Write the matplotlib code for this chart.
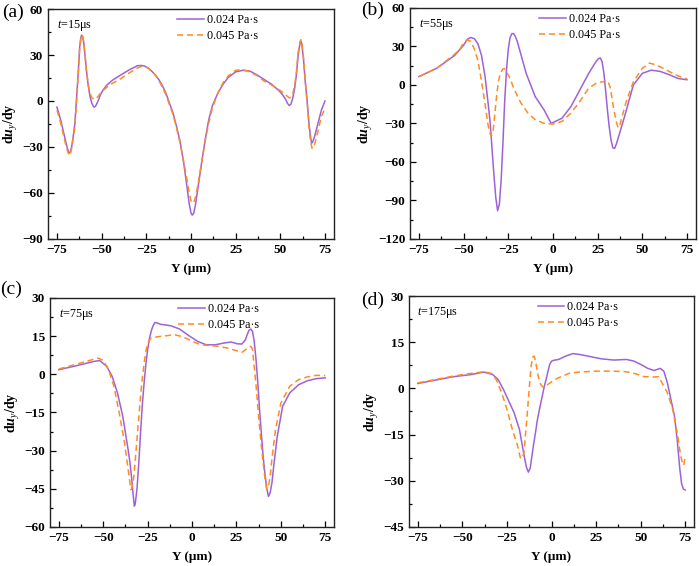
import numpy as np
import matplotlib
matplotlib.use("Agg")
import matplotlib.pyplot as plt
from matplotlib.ticker import MultipleLocator

plt.rcParams["font.family"] = ["Liberation Serif", "DejaVu Serif"]
plt.rcParams["mathtext.fontset"] = "custom"
plt.rcParams["mathtext.rm"] = "Liberation Serif"
plt.rcParams["mathtext.it"] = "Liberation Serif:italic"
plt.rcParams["mathtext.bf"] = "Liberation Serif:bold"
try:
    plt.rcParams["mathtext.bfit"] = "Liberation Serif:bold:italic"
except KeyError:
    pass

# ---- data ----
# (a) t = 15 us
a_x1 = [-75, -74, -73, -72, -71, -70, -69, -68.2, -67.5, -66.8, -66, -65, -64, -63, -62.3, -61.6, -61.2, -60.6, -60, -59.3,
        -58.5, -57.5, -56.5, -55.5, -54.5, -54, -53.2, -52, -50.5, -49, -47, -44, -40, -35, -30, -28, -26, -24, -22, -20,
        -18, -16, -14, -12, -10, -8, -6, -4, -2, -1, 0, 0.7, 1.5, 2.5, 4, 6, 8, 10, 12, 15,
        18, 21, 25, 29, 33, 37, 41, 45, 49, 51, 53, 54, 55, 56, 57, 58, 59, 60, 61, 61.5,
        62, 63, 64, 65, 66, 67, 67.5, 68, 69, 71, 73, 75]
a_y1 = [-4, -8, -12, -17, -22, -27, -31.5, -34, -33.5, -30, -24, -15, 2, 20, 35, 41.5, 43, 42, 38, 30,
        20, 10, 3, -1.5, -3.8, -4, -3, 0, 4.5, 7.5, 10.5, 13.5, 16.5, 20, 23, 23.2, 22.8, 21.5, 19.5, 17,
        14, 10, 5, -1.5, -8, -17, -27, -41, -58, -67, -73, -74.5, -73.5, -68, -56, -40, -25, -12, -3, 5,
        11, 15.5, 19, 20, 19.5, 17, 14, 11, 7, 4.5, 1, -1.5, -3, -2, 2, 8, 17, 30, 37.5, 39,
        37.5, 27, 12, 0, -14, -24, -27.5, -27, -24, -15, -6, 0]
a_x2 = [-75, -74, -73, -72, -71, -70, -69, -68.2, -67.5, -66.8, -66, -65, -64, -63, -62.3, -61.6, -61.2, -60.6, -60, -59.3,
        -58.5, -57.5, -56.5, -55.5, -54.5, -54, -53, -52, -50, -47, -44, -40, -35, -30, -28, -26, -24, -22, -20,
        -18, -16, -14, -12, -10, -8, -6, -4, -2, -1, 0, 0.7, 1.5, 2.5, 4, 6, 8, 10, 12, 15,
        18, 21, 25, 29, 33, 37, 41, 45, 49, 51, 53, 54, 55, 56, 57, 58, 59, 60, 61, 61.5,
        62, 63, 64, 65, 66, 67, 67.8, 68.5, 69.5, 71, 73, 75]
a_y2 = [-6, -10, -14, -19, -24, -29, -33, -35.5, -35, -31, -25, -17, 1, 19, 34, 41.5, 43, 42, 38, 30,
        20, 11, 5, 2.2, 1.2, 1, 1.8, 3, 6, 9, 11.5, 14, 18, 21.5, 22.5, 22.5, 21.5, 19.5, 17,
        13.5, 9, 4, -2.5, -9, -18, -28, -40, -53, -60, -65, -66.5, -66.5, -63, -54, -40, -26, -14, -4.5, 5,
        12, 16.5, 20, 20.5, 19, 16.5, 13, 10.5, 7.5, 6, 4, 3, 2, 2.5, 5, 10, 19, 32, 38.5, 40,
        38.5, 28, 13, 0, -16, -27, -31, -30.5, -27, -20, -10, -5]

# (b) t = 55 us
b_x1 = [-75, -65, -55, -50, -48, -46, -44, -42, -40, -38, -36, -35, -34, -33, -32, -31, -30, -29, -28, -27,
        -26, -25, -24, -23, -22, -21, -20, -15, -10, -5, -1, 5, 10, 15, 20, 24, 25.5, 26.5, 27.5, 28.5,
        29.5, 30.5, 31.5, 32.5, 33.5, 34.5, 35.5, 37, 40, 45, 50, 55, 60, 65, 70, 75]
b_y1 = [6.5, 13, 23, 31, 35.5, 37, 36, 32, 23, 6.5, -18, -32, -52, -71, -88, -98, -93, -74, -45, -12,
        12, 28, 37, 40, 40, 37.5, 34, 9, -9, -19.5, -30, -26, -17, -4, 9, 18, 20.5, 21, 18, 9,
        -5, -20, -33, -43, -49, -49.5, -46, -39, -25, 0, 9, 11.5, 10.5, 8, 5, 4]
b_x2 = [-75, -65, -55, -52, -50, -48, -46, -44, -42, -40, -38, -36.5, -35.5, -34.5, -33.5, -32.5, -31.5, -30.5, -29.5, -28,
        -27, -25.5, -24, -22, -18, -14, -10, -5, 0, 5, 10, 15, 20, 25, 27, 28.5, 30, 31, 32, 33,
        34, 35.5, 36.5, 37.5, 39, 41, 45, 50, 54, 58, 65, 70, 75]
b_y2 = [6.5, 13, 24, 28, 33, 35, 34, 28, 19, 3, -15, -30, -37, -40, -36, -22, -8, 3, 9, 12.5,
        12.5, 9, 5, -2.5, -14, -22, -27, -30, -30.5, -28.5, -22, -13, -2.5, 2, 2.3, 2.5, 3.5, 2, -2, -10,
        -19, -29, -33.5, -31, -23, -13, 2.5, 13, 17, 15.5, 10.5, 7, 4.7]

# (c) t = 75 us
c_x1 = [-75, -65, -55, -52, -48, -45, -42, -39, -36, -35, -34, -33, -32.5, -32, -31, -30, -29, -28, -27, -26,
        -25, -24, -23, -22, -21, -20, -18, -12, -7, -2, 3, 8, 13, 18, 22, 25.5, 28, 30, 31, 32,
        33, 34, 35, 36, 37, 38, 39, 40, 41, 42, 43, 44, 45, 46, 48, 51, 55, 60, 65, 70, 75]
c_y1 = [1.8, 3.4, 5.1, 5.4, 3.1, -0.8, -7.3, -16.5, -29.6, -34.5, -41, -48.5, -51.8, -51, -45, -35, -23, -12, -3.4, 4,
        9.7, 14, 17, 19, 20.3, 20.3, 19.7, 19.1, 17.8, 15.3, 13, 11.6, 11.6, 12.3, 12.7, 12, 11.9, 13.5, 15.5, 17.2,
        17.8, 17, 13, 6, -3, -13.9, -23, -32, -39, -44.5, -48, -46.5, -42.6, -36, -24.3, -12.6, -7.3, -4.1, -2.5, -1.7, -1.4]
c_x2 = [-75, -65, -56, -53, -50, -47, -44, -41, -38, -36, -35, -34.5, -34, -33, -32, -31, -30, -29, -28, -27,
        -26, -25, -23, -18, -14, -10, -5, 0, 5, 10, 15, 20, 25, 28, 30.5, 33, 34, 35, 36, 37,
        38, 39, 40, 41, 42, 43, 44, 45, 47, 50, 55, 60, 65, 70, 75]
c_y2 = [2.1, 4, 5.8, 6.4, 5.5, 1.8, -4.7, -15.2, -27, -37.4, -42.5, -45.3, -45, -41.4, -34, -25.6, -17, -8.6, -1.5, 4.4,
        9, 12.3, 14.4, 14.9, 15.2, 15.6, 14.7, 13, 11.6, 11.3, 11, 10.3, 9.3, 8.6, 9.9, 11, 10, 3, -4, -12.5,
        -20.5, -28, -34.5, -40.5, -45, -44, -40, -33, -21.7, -11.3, -4.7, -2.1, -1, -0.4, -0.5]

# (d) t = 175 us
d_x1 = [-75, -65, -55, -45, -38, -33, -30, -27, -24, -21, -18, -16, -15, -14, -13, -12, -11, -10, -9, -8,
        -7, -6, -5, -4, -3, -2, -1, 0, 1, 4, 8, 12, 16, 22, 28, 35, 42, 46, 50, 54,
        57.5, 61, 63, 65, 67, 69, 70.5, 72, 73, 74, 75]
d_y1 = [1.6, 2.7, 3.8, 4.5, 5.3, 4.5, 2.9, -0.3, -4.1, -7.9, -13.3, -19.8, -23, -25.7, -27.2, -26, -22, -18, -14.4, -10.5,
        -7.5, -4.7, -2, 0.8, 3, 5.5, 7.8, 8.8, 9.1, 9.4, 10.5, 11.3, 11, 10.3, 9.6, 9.2, 9.4, 8.9, 7.8, 6.5,
        5.8, 6.5, 5.6, 1.8, -3.6, -9, -16.6, -26.3, -31, -32.7, -33]
d_x2 = [-75, -65, -55, -45, -38, -34, -31, -28, -25, -22, -19, -17.5, -16.5, -15.5, -14.5, -13.5, -12.5, -11.5, -10.5, -9.8,
        -9, -8, -7, -6, -5, -4, -2, 2, 6, 10, 15, 25, 35, 42, 47, 52, 57, 60, 62, 65,
        68, 70.5, 72.5, 73.5, 74.2, 75]
d_y2 = [1.8, 2.9, 4, 4.9, 5.4, 4.9, 2.9, -1.4, -6.8, -13.3, -18.7, -22.5, -22.8, -20.9, -14.5, -7.5, 0, 7, 10.2, 10.5,
        9, 5.5, 2.8, 1.2, 0.5, 0.4, 1.3, 2.9, 4, 4.9, 5.3, 5.6, 5.6, 5.4, 4.8, 3.8, 3.7, 3.8, 1.8, -1.4,
        -6.8, -14.4, -22, -24.5, -25, -22]

panel_tags = ["(a)", "(b)", "(c)", "(d)"]
times = ["15", "55", "75", "175"]
series_names = ["0.024 Pa·s", "0.045 Pa·s"]
ylims = [(-90, 60), (-120, 60), (-60, 30), (-45, 30)]
ysteps = [30, 30, 15, 15]
xticks = [-75, -50, -25, 0, 25, 50, 75]

purple = "#9E62D6"
orange = "#FF8C22"

curves = [
    (a_x1, a_y1, a_x2, a_y2),
    (b_x1, b_y1, b_x2, b_y2),
    (c_x1, c_y1, c_x2, c_y2),
    (d_x1, d_y1, d_x2, d_y2),
]

# axes rectangles in figure fractions
rects = [
    [0.0687, 0.578, 0.409, 0.406],
    [0.5866, 0.578, 0.409, 0.408],
    [0.0715, 0.069, 0.4065, 0.4045],
    [0.585, 0.069, 0.408, 0.408],
]
tag_pos = [(0.003, 0.979), (0.517, 0.981), (0.0, 0.488), (0.517, 0.470)]

fig = plt.figure(figsize=(6.99, 5.66), dpi=100)

for i in range(4):
    ax = fig.add_axes(rects[i])
    x1, y1, x2, y2 = curves[i]
    ax.plot(x1, y1, color=purple, lw=1.1, label=series_names[0])
    ax.plot(x2, y2, color=orange, lw=1.1, ls=(0, (4, 2.5)), label=series_names[1])

    ax.set_xlim(-80, 80)
    ax.set_ylim(*ylims[i])
    ax.set_xticks(xticks)
    ax.set_yticks(np.arange(ylims[i][0], ylims[i][1] + 1, ysteps[i]))
    ax.xaxis.set_minor_locator(MultipleLocator(12.5))
    ax.yaxis.set_minor_locator(MultipleLocator(ysteps[i] / 2))
    ax.tick_params(which="both", direction="in", top=False, right=False, labelsize=9.5, width=0.9)
    ax.tick_params(which="major", length=4)
    ax.tick_params(which="minor", length=2.5)
    for lab in ax.get_xticklabels() + ax.get_yticklabels():
        lab.set_fontweight("bold")
    for sp in ax.spines.values():
        sp.set_linewidth(1.0)
        sp.set_color("#222222")

    ax.set_xlabel("Y (μm)", fontsize=9.5, fontweight="bold", labelpad=5)
    ax.set_ylabel(r"d$\boldsymbol{u}_{\mathit{y}}$/dy", fontsize=10, fontweight="bold", labelpad=2)

    ax.text(0.03, 0.93, r"$t$=" + times[i] + "μs", transform=ax.transAxes,
            fontsize=8.7, va="center", ha="left")
    ax.legend(loc="upper left", bbox_to_anchor=(0.432, 1.0), frameon=False, fontsize=8.7,
              handlelength=2.2, handletextpad=0.25, borderpad=0.25, borderaxespad=0.2,
              labelspacing=0.3)

    fig.text(tag_pos[i][0], tag_pos[i][1], panel_tags[i], fontsize=14, va="center", ha="left")

fig.savefig("out.png", dpi=100)
